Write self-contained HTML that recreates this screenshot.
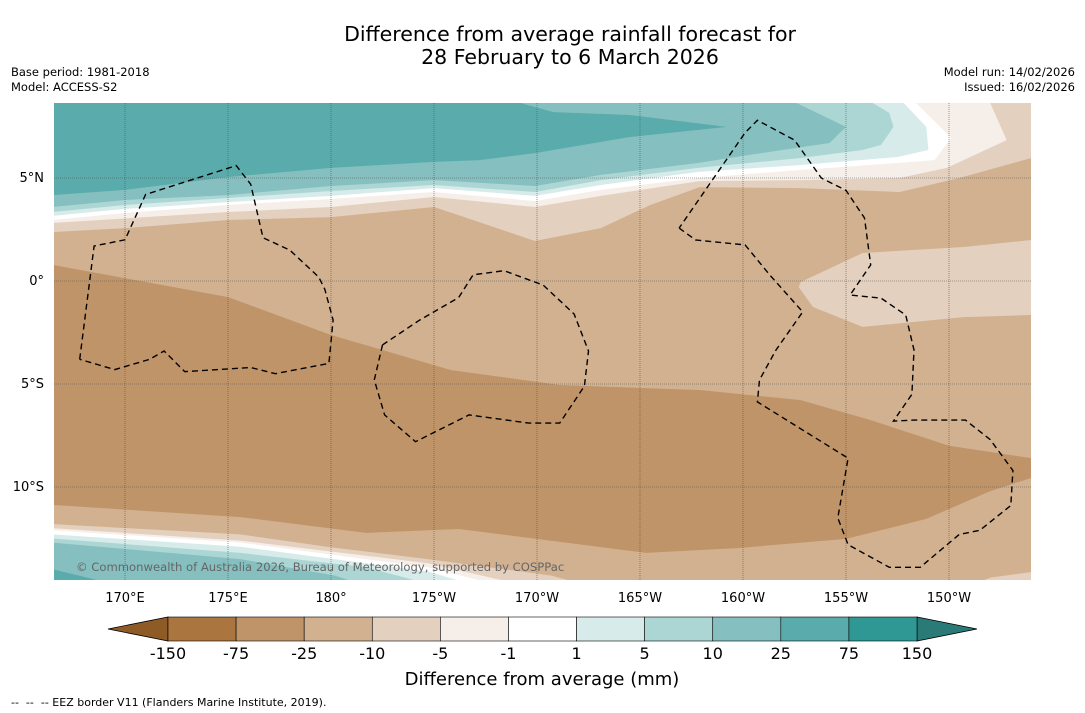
<!DOCTYPE html>
<html><head><meta charset="utf-8">
<style>
body{margin:0;background:#fff;width:1085px;height:713px;overflow:hidden;font-family:"DejaVu Sans","Liberation Sans",sans-serif}
svg{display:block}
</style></head>
<body>
<svg id="chart" width="1085" height="713" viewBox="0 0 1085 713" xmlns="http://www.w3.org/2000/svg" font-family="DejaVu Sans, Liberation Sans, sans-serif">
<text x="570" y="41" font-size="20.5" text-anchor="middle" fill="#000">Difference from average rainfall forecast for</text>
<text x="570" y="64" font-size="20.5" text-anchor="middle" fill="#000">28 February to 6 March 2026</text>
<text x="11" y="76" font-size="11.5">Base period: 1981-2018</text>
<text x="11" y="91" font-size="11.5">Model: ACCESS-S2</text>
<text x="1075" y="76" font-size="11.5" text-anchor="end">Model run: 14/02/2026</text>
<text x="1075" y="91" font-size="11.5" text-anchor="end">Issued: 16/02/2026</text>
<defs><clipPath id="mapclip"><rect x="54" y="103" width="977" height="477"/></clipPath></defs>
<g id="map" clip-path="url(#mapclip)"></g>
<g id="axes"></g>
<g id="cbar"></g>
<text x="542" y="685" font-size="18" text-anchor="middle">Difference from average (mm)</text>
<text x="11" y="706" font-size="11" xml:space="preserve">--  --  -- EEZ border V11 (Flanders Marine Institute, 2019).</text>
</svg>
<script>
// ---- data ----
const levels = ["-150","-75","-25","-10","-5","-1","1","5","10","25","75","150"];
const levelColors = ["#ab753f","#c09469","#d2b190","#e4d0bf","#f6eee9","#ffffff","#d6ebea","#acd6d4","#85bfbf","#5aabab","#2f9894"];
const extendColors = ["#8e5a26","#2a7a78"];
const lonTicks = [170,175,180,185,190,195,200,205,210];
const lonTickLabels = ["170°E","175°E","180°","175°W","170°W","165°W","160°W","155°W","150°W"];
const latTicks = [5,0,-5,-10];
const latTickLabels = ["5°N","0°","5°S","10°S"];
// contour polygons in [lon (deg E, 0-360), lat]
const baseColor = 2;
const bandNorthM10 = [[166.5,9],[215,9],[215,5.97],[214,5.97],[210.5,5.0],[207.6,4.32],[202.8,4.51],[197.9,4.56],[195.5,3.69],[193.1,2.57],[189.9,1.94],[187.2,2.86],[185,3.59],[180,3.1],[175,2.96],[170,2.57],[166.5,2.38]];
const bandNorthM5 = [[166.5,9],[212.0,9],[212.0,8.64],[212.8,6.84],[209.9,5.49],[207.6,5.0],[202.8,4.9],[197.9,4.85],[193.1,4.13],[189.9,3.59],[185,4.08],[180,3.59],[175,3.35],[166.5,2.82]];
const bandNorthM1 = [[166.5,9],[208.4,9],[208.4,8.64],[210.1,6.94],[209.3,5.87],[207.5,5.73],[202.8,5.39],[197.8,5.0],[193.1,4.42],[189.9,3.88],[185,4.32],[180,3.98],[175,3.69],[170,3.3],[166.5,2.96]];
const bandNorthP1 = [[166.5,9],[207.8,9],[207.8,8.64],[208.9,7.48],[209,6.36],[207.5,6.02],[202.8,5.63],[197.8,5.29],[193.1,4.66],[189.9,4.13],[185,4.51],[180,4.13],[175,3.83],[170,3.5],[166.5,3.16]];
const bandNorthP5 = [[166.5,9],[206.3,9],[206.3,8.64],[207.1,8.16],[207.3,7.48],[206.7,6.6],[205.8,6.36],[202.8,5.97],[197.8,5.49],[193.1,4.9],[189.9,4.32],[185,4.66],[180,4.37],[175,4.03],[170,3.69],[166.5,3.35]];
const bandNorthP10 = [[166.5,9],[202.6,9],[202.6,8.64],[205,7.48],[204.2,6.7],[200.3,6.12],[197.8,5.73],[193.1,5.15],[189.9,4.61],[185,4.9],[180,4.61],[175,4.17],[170,3.93],[166.5,3.59]];
const bandNorthP25 = [[166.5,9],[189.2,9],[189.2,8.64],[190.8,8.2],[194.5,8.06],[199.2,7.48],[194.5,6.99],[189.9,6.21],[187.2,5.87],[185,5.78],[180,5.49],[175,5.05],[170,4.42],[166.5,4.17]];
const bandDark = [[166.5,0.78],[175,-0.78],[180,-2.62],[185.8,-4.32],[191.1,-5.05],[197.9,-5.29],[202.8,-5.78],[206.2,-6.75],[210,-8.0],[214,-8.6],[215,-8.7],[215,-9.5],[214,-9.56],[212,-10.2],[208.9,-11.55],[205,-12.52],[199.8,-12.96],[195.3,-13.2],[186.2,-12.04],[181.7,-12.23],[175.6,-11.46],[166.5,-10.87]];
const bandEastLight = [[202.7,-0.29],[202.8,-0.05],[205.8,1.36],[210.7,1.65],[214,1.99],[215,2.0],[215,-1.65],[214,-1.65],[210.7,-1.75],[205.8,-2.23],[203.4,-1.26]];
const bandSouthM10 = [[166.5,-11.8],[175.6,-12.3],[179.8,-12.9],[184.7,-13.5],[190.7,-14.3],[192.5,-14.8],[166.5,-14.8]];
const bandSouthM10b = [[211.0,-14.8],[212,-14.4],[215,-14.0],[215,-14.8]];
const bandSouthM5 = [[166.5,-12.0],[175.6,-12.6],[184.7,-13.7],[189.5,-14.8],[166.5,-14.8]];
const bandSouthM1 = [[166.5,-12.1],[175.6,-12.7],[184.7,-13.9],[188.3,-14.8],[166.5,-14.8]];
const bandSouthP1 = [[166.5,-12.3],[175.6,-12.9],[184.7,-14.1],[187.1,-14.8],[166.5,-14.8]];
const bandSouthP5 = [[166.5,-12.5],[175.6,-13.2],[181.7,-13.9],[185.1,-14.8],[166.5,-14.8]];
const bandSouthP10 = [[166.5,-12.7],[175.6,-13.5],[180.2,-14.3],[181.7,-14.8],[166.5,-14.8]];
const bandSouthP25 = [[166.5,-14.0],[169.0,-14.6],[170.0,-14.8],[166.5,-14.8]];
const bands = [[3,bandNorthM10],[4,bandNorthM5],[5,bandNorthM1],[6,bandNorthP1],[7,bandNorthP5],[8,bandNorthP10],[9,bandNorthP25],[1,bandDark],[3,bandEastLight],[3,bandSouthM10],[3,bandSouthM10b],[4,bandSouthM5],[5,bandSouthM1],[6,bandSouthP1],[7,bandSouthP5],[8,bandSouthP10],[9,bandSouthP25]];
// EEZ borders
const eezWest = [[167.8,-3.8],[168.5,1.7],[170,2.0],[171.0,4.2],[175.4,5.6],[176.1,4.7],[176.7,2.1],[178.0,1.5],[179.4,0.2],[179.7,-0.4],[180.1,-1.9],[179.9,-4.0],[177.3,-4.5],[176.1,-4.2],[172.9,-4.4],[171.9,-3.4],[171.2,-3.8],[169.5,-4.3],[167.8,-3.8]];
const eezCentral = [[182.5,-3.1],[182.1,-4.8],[182.6,-6.5],[184.1,-7.8],[186.7,-6.5],[189.6,-6.9],[191.1,-6.9],[192.3,-5.1],[192.5,-3.4],[191.8,-1.6],[190.3,-0.2],[188.4,0.5],[186.9,0.3],[186.2,-0.8],[184.3,-1.9],[182.5,-3.1]];
const eezEast = [[196.9,2.57],[197.7,1.99],[200.1,1.75],[201.3,0.29],[202.9,-1.5],[201.6,-3.35],[200.8,-4.8],[200.7,-5.87],[205.1,-8.6],[204.6,-11.5],[205.1,-12.8],[207.1,-13.9],[208.6,-13.9],[210.5,-12.3],[211.5,-12.1],[213,-10.9],[213.1,-9.2],[212,-7.7],[210.8,-6.75],[208.3,-6.75],[207.3,-6.8],[208.2,-5.5],[208.3,-3.35],[207.9,-1.65],[206.7,-0.83],[205.2,-0.68],[206.2,0.78],[205.9,3.06],[205,4.4],[203.8,5.0],[202.5,6.84],[200.7,7.8],[200.1,7.2],[196.9,2.57]];
const eezLines = [eezWest, eezCentral, eezEast];

// ---- axis functions ----
const X0 = 125, LON0 = 170, PX = 20.6, Y0 = 281;
function xs(lon){ return X0 + (lon - LON0) * PX; }
function ys(lat){ return Y0 - lat * PX; }
const NS = 'http://www.w3.org/2000/svg';
function mk(tag, attrs, parent){ const e = document.createElementNS(NS, tag); for (const k in attrs) e.setAttribute(k, attrs[k]); parent.appendChild(e); return e; }
function pts(arr){ return arr.map(p => xs(p[0]).toFixed(1) + ',' + ys(p[1]).toFixed(1)).join(' '); }

const map = document.getElementById('map');
const bg = mk('rect', {x:54, y:103, width:977, height:477, fill:levelColors[baseColor]}, map);


bands.forEach((b, i) => {
  const p = mk('polygon', {points: pts(b[1]), fill: levelColors[b[0]]}, map);
  
  
});
lonTicks.forEach(l => {
  const g = mk('line', {x1:xs(l), x2:xs(l), y1:103, y2:580, stroke:'#555', 'stroke-width':0.6, 'stroke-dasharray':'1,1'}, map);
  
  
});
latTicks.forEach(l => {
  const g = mk('line', {x1:54, x2:1031, y1:ys(l), y2:ys(l), stroke:'#555', 'stroke-width':0.6, 'stroke-dasharray':'1,1'}, map);
  
  
});
eezLines.forEach(e => {
  const l = mk('polyline', {points: pts(e), fill:'none', stroke:'#000', 'stroke-width':1.4, 'stroke-dasharray':'6,4'}, map);
  
  
});
const cr = mk('text', {x:76, y:571, 'font-size':11.6, fill:'#666'}, map);
cr.textContent = '© Commonwealth of Australia 2026, Bureau of Meteorology, supported by COSPPac';



const axes = document.getElementById('axes');
lonTicks.forEach((l, i) => {
  const t = mk('text', {x:xs(l), y:602, 'font-size':13, 'text-anchor':'middle'}, axes);
  t.textContent = lonTickLabels[i];
  
  
});
latTicks.forEach((l, i) => {
  const t = mk('text', {x:44, y:ys(l)+4, 'font-size':13, 'text-anchor':'end'}, axes);
  t.textContent = latTickLabels[i];
  
  
});

const cb = document.getElementById('cbar');
const CB0 = 168, CB1 = 917, CBY = 617, CBH = 24, n = levelColors.length, w = (CB1 - CB0) / n;
const lt = mk('polygon', {points: `108,${CBY+CBH/2} ${CB0},${CBY} ${CB0},${CBY+CBH}`, fill:extendColors[0], stroke:'#000', 'stroke-width':0.8}, cb);


const rt = mk('polygon', {points: `977,${CBY+CBH/2} ${CB1},${CBY} ${CB1},${CBY+CBH}`, fill:extendColors[1], stroke:'#000', 'stroke-width':0.8}, cb);


levelColors.forEach((c, i) => {
  const r = mk('rect', {x:CB0 + i*w, y:CBY, width:w, height:CBH, fill:c, stroke:'#000', 'stroke-width':0.6}, cb);
  
  
});
levels.forEach((lab, i) => {
  const t = mk('text', {x:CB0 + i*w, y:659, 'font-size':16, 'text-anchor':'middle'}, cb);
  t.textContent = lab;
  
  
});
</script>
</body></html>
